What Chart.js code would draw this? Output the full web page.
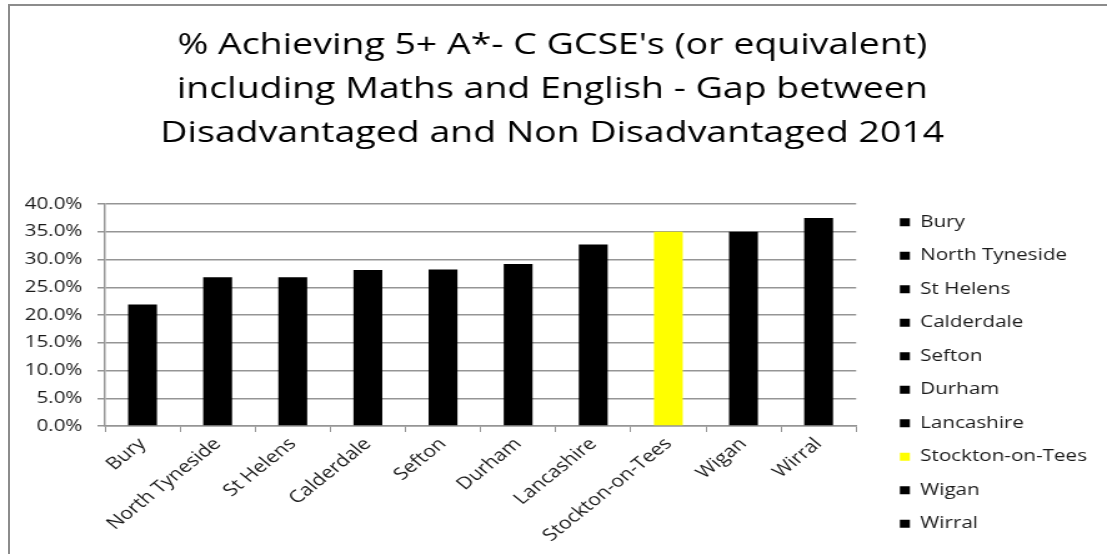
<!DOCTYPE html>
<html>
<head>
<meta charset="utf-8">
<script src="https://cdn.jsdelivr.net/npm/chart.js@4"></script>
<style>
  html, body { margin: 0; padding: 0; background: #fff; overflow: hidden; }
  .frame {
    position: absolute; left: 8px; top: 4px; width: 1200px; height: 700px;
    border-left: 2px solid #8c8c8c; border-top: 2px solid #8c8c8c;
  }
  /* chart is laid out at 886px and stretched to the 1107px slot */
  #wrap {
    position: absolute; left: 0; top: 0; width: 886px; height: 554px;
    transform: scaleX(1.2494); transform-origin: 0 0;
  }
</style>
</head>
<body>
<div class="frame"></div>
<div id="wrap"><canvas id="gapChart" width="886" height="554"></canvas></div>
<script>
// Local authorities, ordered by size of the gap
var areas = ['Bury', 'North Tyneside', 'St Helens', 'Calderdale', 'Sefton',
  'Durham', 'Lancashire', 'Stockton-on-Tees', 'Wigan', 'Wirral'];
// Gap in % achieving 5+ A*-C incl. Maths and English (percentage points)
var gapValues = [21.9, 26.8, 26.8, 28.1, 28.2, 29.2, 32.7, 35.0, 35.0, 37.5];
var barColors = ['#000000', '#000000', '#000000', '#000000', '#000000',
  '#000000', '#000000', '#ffff00', '#000000', '#000000'];
var titleLines = [
  "% Achieving 5+ A*- C GCSE's (or equivalent)",
  'including Maths and English - Gap between',
  'Disadvantaged and Non Disadvantaged 2014'
];

var FONT = "'Open Sans', 'DejaVu Sans', sans-serif";
var gridGrey = '#959595';
var textCol = '#1a1a1a';

var ctx = document.getElementById('gapChart').getContext('2d');
new Chart(ctx, {
  type: 'bar',
  data: {
    labels: areas,
    datasets: [{
      label: 'Gap',
      data: gapValues,
      backgroundColor: barColors,
      borderWidth: 0,
      categoryPercentage: 1,
      barPercentage: 0.384
    }]
  },
  options: {
    responsive: false,
    animation: false,
    layout: { padding: { left: 4, right: 6, top: 0, bottom: 0 } },
    plugins: {
      title: {
        display: true,
        text: titleLines,
        color: '#000',
        font: { family: FONT, size: 30, weight: 'normal', lineHeight: 1.4667 },
        padding: { top: 23, bottom: 49 }
      },
      legend: {
        position: 'right',
        align: 'start',
        maxWidth: 182,
        onClick: null,
        // blank title only used to push the entries down beside the plot
        title: { display: true, text: ' ', font: { size: 10, lineHeight: 1 }, padding: { top: 187, bottom: 0 } },
        labels: {
          color: textCol,
          font: { family: FONT, size: 16.5 },
          boxWidth: 8,
          boxHeight: 8,
          padding: 17,
          generateLabels: function () {
            return areas.map(function (name, i) {
              return {
                text: name,
                fillStyle: barColors[i],
                strokeStyle: barColors[i],
                lineWidth: 0,
                hidden: false,
                index: i,
                fontColor: textCol
              };
            });
          }
        }
      },
      tooltip: { enabled: false }
    },
    scales: {
      x: {
        grid: {
          offset: true,
          drawOnChartArea: false,
          color: gridGrey,
          tickLength: 6
        },
        border: { color: gridGrey, width: 1.5 },
        ticks: {
          color: textCol,
          font: { family: FONT, size: 17 },
          maxRotation: 45,
          minRotation: 45,
          padding: 2,
          autoSkip: false
        },
        afterFit: function (scale) { scale.height = 128; }
      },
      y: {
        min: 0,
        max: 40,
        grid: { color: gridGrey, lineWidth: 1.5, tickLength: 6 },
        border: { color: gridGrey, width: 1.5 },
        ticks: {
          stepSize: 5,
          color: textCol,
          font: { family: FONT, size: 16.5 },
          padding: 12,
          callback: function (v) { return v.toFixed(1) + '%'; }
        },
        afterFit: function (scale) { scale.width = 80; }
      },
      // empty axis: spacing between plot and legend
      gap: {
        type: 'linear',
        position: 'right',
        grid: { display: false },
        border: { display: false },
        ticks: { display: false },
        afterFit: function (scale) { scale.width = 18; }
      }
    }
  }
});
</script>
</body>
</html>
